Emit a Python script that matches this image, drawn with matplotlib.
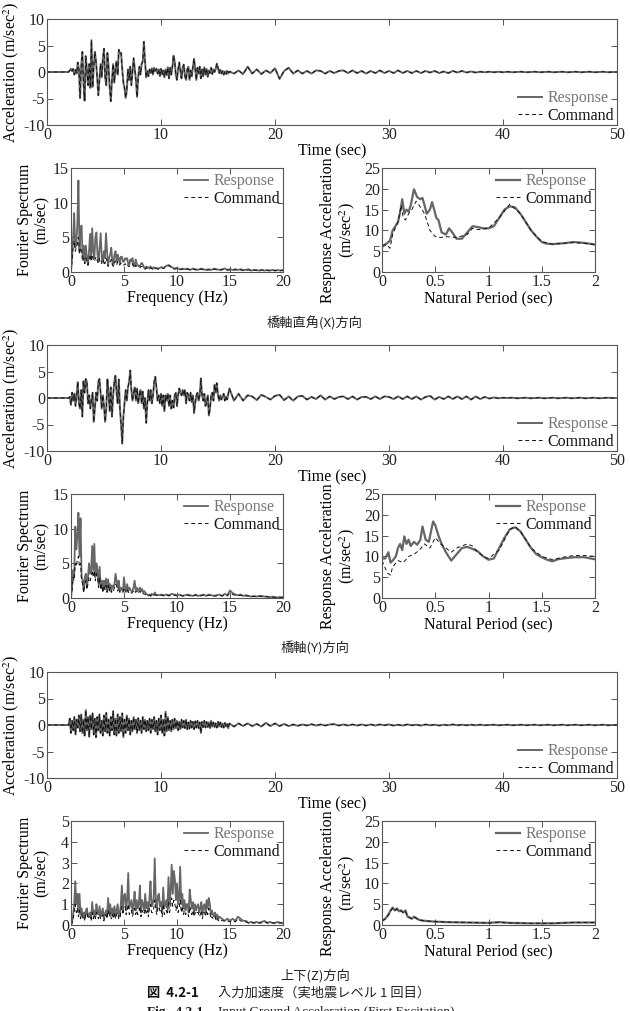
import numpy as np
import matplotlib
matplotlib.use("Agg")
import matplotlib.pyplot as plt

plt.rcParams['font.family'] = ['Liberation Serif', 'DejaVu Serif']
plt.rcParams['mathtext.fontset'] = 'stix'
plt.rcParams['font.size'] = 11.5
plt.rcParams['axes.unicode_minus'] = False

# ---------------- time histories (m/sec^2) ----------------
# dense part sampled every 0.1 s from 2.0 s to 16.0 s
acc_x_dense = [0.3, 0.6, 0.2, 0.6, -0.5, 0.4, -0.3, 1.8, 0.5, -4.9,
               1.0, 3.8, -2.0, -5.4, 3.0, 0.5, -2.5, 1.5, -3.0, 6.0,
               -2.8, 1.0, 3.8, 2.0, -1.0, -4.4, -1.5, 1.5, -1.0, 2.5,
               4.4, -1.0, -2.5, 3.6, 1.0, -3.0, -5.5, -1.5, 1.5, -2.0,
               0.5, 2.0, -0.5, 4.2, 3.5, 3.6, 0.5, -2.0, -3.0, -4.9,
               -3.5, 0.5, -1.5, 1.0, -2.5, 0.0, 2.6, 0.5, -1.5, -4.7,
               -1.0, 1.0, -0.5, 1.5, 2.0, 5.7, 2.0, -1.0, 0.2, -0.8,
               0.5, -0.2, 0.7, -0.5, 0.8, 0.2, 0.6, -0.3, 0.5, -0.8,
               0.6, -0.5, 0.3, -1.0, 0.5, -0.6, 0.9, -1.2, 0.8, -0.5,
               1.0, 3.1, 2.0, -0.5, -1.5, 0.5, 1.8, 0.2, -1.2, 0.8,
               1.4, -0.8, -1.5, 0.5, 1.0, -1.5, 0.3, -0.8, 1.0, 2.5,
               0.5, -1.5, 0.8, -0.3, 1.0, -1.2, 0.5, -0.8, 0.9, -0.5,
               0.6, -0.9, 0.3, -0.2, 0.8, -0.4, 0.5, 0.0, 0.6, 1.6,
               0.8, -0.2, 0.4, -0.3, 0.2, -0.5, 0.1, -0.4, 0.2, -0.3,
               0.1]
# tail sampled every 0.4 s from 16.4 s to 50.0 s
acc_x_tail = [-0.3, 0.3, -0.4, 1.0, -0.3, 0.5, -0.4, 0.3, -0.2, 0.7,
              -1.3, 0.2, 0.8, -0.3, 0.3, -0.3, 0.2, -0.3, 0.3, 0.2,
              -0.3, 0.2, -0.2, 0.2, 0.3, -0.2, 0.3, -0.2, 0.2, -0.3,
              0.2, -0.2, 0.3, -0.2, 0.2, -0.2, 0.3, -0.2, 0.2, -0.2,
              0.2, -0.2, 0.2, -0.1, 0.2, -0.2, 0.1, -0.2, 0.2, -0.1,
              0.2, -0.1, 0.1, -0.1, 0.05, -0.05, 0.05, -0.05, 0.05, -0.05,
              0.05, -0.05, 0.0, 0.05, -0.05, 0.0, 0.05, -0.05, 0.0, 0.05,
              -0.05, 0.0, 0.05, -0.05, 0.0, 0.05, -0.05, 0.0, 0.05, -0.05,
              0.0, 0.05, -0.05, 0.0, 0.0]

acc_y_dense = [0.2, -1.3, 1.0, -0.5, 0.8, -1.5, 0.5, 3.0, -1.0, -2.0,
               1.5, -3.5, 3.2, 1.0, 3.6, 3.0, -1.0, 0.5, -2.0, -0.5,
               1.0, -4.5, -2.0, 1.0, -0.5, 3.0, 3.6, 1.0, -2.0, 0.5,
               -1.5, -4.5, -2.0, 3.5, 1.0, -2.5, 2.0, -3.5, 0.5, 3.0,
               4.2, 1.0, -1.0, 3.5, -2.0, -5.0, -8.6, -3.5, -1.0, 1.5,
               -0.5, 2.0, 3.0, 5.2, 1.5, -0.5, 1.0, 2.0, -0.5, 1.8,
               -1.0, 0.5, 1.5, -1.0, 1.2, -2.0, 0.0, -4.7, -1.0, 1.5,
               -0.5, 1.5, -1.0, 0.5, 3.0, 4.0, 2.0, -0.5, 0.5, -1.0,
               0.8, -1.5, 0.5, -2.5, 0.5, -0.5, 0.8, -1.5, 0.5, -2.0,
               -0.5, -1.8, 0.5, 1.0, -1.5, 0.5, 1.8, 1.0, 0.5, 1.5,
               0.5, 1.5, -1.0, 1.0, 0.5, -0.5, 1.0, -0.8, 0.5, -2.8,
               -1.0, 0.5, 1.0, -0.5, 0.5, 3.7, 0.5, -0.5, 0.8, -1.5,
               -1.0, 0.5, -3.3, -2.0, 0.5, 1.0, -0.5, 2.5, 1.0, 2.8,
               0.5, -0.5, 0.5, -0.3, 0.3, 0.8, -0.5, 0.3, -0.3, 0.8,
               1.8]
acc_y_tail = [-0.5, 0.8, -0.5, 0.5, 0.3, -0.4, 0.6, 0.2, -0.3, 0.4,
              0.6, -0.4, 0.3, -0.5, 0.3, 0.4, -0.3, 0.2, -0.2, 0.5,
              -0.3, 0.3, -0.2, 0.2, 0.3, -0.2, 0.3, -0.3, 0.2, 0.2,
              -0.2, 0.3, -0.2, 0.3, 0.2, -0.2, 0.3, -0.2, 0.3, -0.2,
              0.3, -0.3, 0.2, 0.4, -0.3, 0.2, -0.2, 0.3, -0.2, 0.3,
              -0.2, 0.3, -0.3, 0.3, -0.2, 0.2, -0.1, 0.1, -0.05, 0.05,
              0.0, 0.05, -0.05, 0.0, 0.05, -0.05, 0.0, 0.05, -0.05, 0.0,
              0.05, -0.05, 0.0, 0.05, -0.05, 0.0, 0.05, -0.05, 0.0, 0.05,
              -0.05, 0.0, 0.05, 0.0, 0.0]

acc_z_dense = [1.2, -1.5, 0.8, -1.0, 1.5, -1.8, 1.0, -0.5, 1.8, -1.2,
               2.0, -1.5, 1.0, -2.0, 2.8, -1.0, 1.5, -2.2, 1.8, -0.8,
               2.2, -1.8, 1.2, -2.3, 1.5, -1.0, 2.0, -1.5, 0.8, -2.0,
               1.8, -1.2, 2.3, -1.5, 1.0, -2.0, 1.5, -1.0, 2.6, -1.8,
               1.2, -2.0, 2.0, -1.5, 1.5, -1.2, 2.2, -2.3, 1.0, -1.5,
               1.8, -1.0, 1.2, -1.8, 0.8, -1.2, 1.5, -0.8, 1.0, -1.5,
               1.3, -1.0, 0.8, -1.5, 1.5, -0.8, 1.0, -1.2, 0.8, -1.0,
               1.2, -1.5, 1.0, -0.8, 1.5, -1.2, 0.8, -1.8, 1.2, -1.0,
               1.8, -1.5, 1.0, -2.0, 2.5, -1.2, 1.5, -1.0, 0.8, -1.2,
               1.0, -0.8, 1.2, -0.6, 0.8, -1.0, 0.6, -0.8, 1.0, -0.5,
               0.8, -0.6, 1.0, -0.8, 0.5, -0.7, 0.8, -0.5, 0.6, -0.8,
               0.7, -0.5, 0.8, -0.6, 0.5, -1.5, 0.6, -0.4, 0.8, -0.5,
               0.6, -0.4, 0.5, -0.6, 0.8, -0.3, 0.5, -0.4, 0.3, -0.5,
               0.6, -0.3, 0.5, -0.4, 0.3, -0.5, 0.4, -0.3, 0.2, -0.6,
               0.3]
acc_z_tail = [-0.3, 0.3, -0.2, 0.3, -0.2, 0.2, -0.3, 0.4, -0.2, 0.3,
              -0.2, 0.2, -0.2, 0.1, -0.15, 0.1, -0.1, 0.15, -0.1, 0.1,
              -0.1, 0.1, 0.15, -0.1, 0.1, -0.1, 0.1, -0.1, 0.1, -0.1,
              0.1, -0.1, 0.1, -0.05, 0.1, -0.1, 0.05, -0.1, 0.1, -0.05,
              0.05, -0.1, 0.1, -0.05, 0.05, -0.1, 0.05, -0.05, 0.1, -0.05,
              0.05, -0.05, 0.05, -0.05, 0.05, -0.05, 0.0, 0.05, -0.05, 0.0,
              0.05, -0.05, 0.0, 0.05, -0.05, 0.0, 0.05, -0.05, 0.0, 0.05,
              -0.05, 0.0, 0.05, -0.05, 0.0, 0.05, -0.05, 0.0, 0.05, -0.05,
              0.0, 0.05, -0.05, 0.0, 0.0]

# ---------------- Fourier spectra (m/sec) ----------------
# 0.1 Hz steps from 0 Hz, then 0.25 Hz steps
fx_resp_dense = [0.0, 2.0, 5.0, 8.5, 3.5, 4.0, 7.0, 13.2, 3.0, 6.5,
                 6.7, 2.0, 3.8, 1.5, 3.8, 2.0, 1.0, 3.0, 5.5, 2.0,
                 6.3, 3.0, 2.0, 5.0, 5.7, 2.5, 1.5, 3.5, 5.6, 2.0,
                 1.5, 3.0, 2.0, 5.6, 3.0, 1.0, 2.0, 2.5, 3.5, 1.5,
                 1.0, 2.5, 3.0, 1.5, 2.5, 2.0, 1.2, 2.2, 2.2, 1.5,
                 1.5, 2.0, 1.8, 2.0, 1.2, 1.0, 1.8, 1.5, 2.0, 1.0,
                 0.8, 1.8, 1.2, 1.0, 0.8, 0.8, 1.2, 1.3, 1.0, 0.6,
                 0.5, 0.8, 0.6, 0.7, 0.5, 0.8, 0.6, 0.5, 0.7, 0.5,
                 0.6]
fx_resp_tail = [0.5, 0.7, 0.6, 0.9, 1.0, 0.7, 0.5, 0.6, 0.4, 0.5,
                0.4, 0.5, 0.3, 0.5, 0.4, 0.3, 0.5, 0.4, 0.3, 0.4,
                0.3, 0.5, 0.4, 0.3, 0.4, 0.5, 0.3, 0.4, 0.3, 0.4,
                0.3, 0.4, 0.3, 0.3, 0.4, 0.2, 0.3, 0.3, 0.2, 0.3,
                0.2, 0.3, 0.2, 0.3, 0.2, 0.3, 0.2, 0.3]
fx_cmd_dense = [0.0, 1.5, 3.5, 4.5, 3.0, 3.5, 4.0, 5.0, 2.5, 3.5,
                3.0, 1.5, 2.0, 1.2, 2.0, 1.5, 1.0, 1.8, 2.5, 1.5,
                2.5, 1.8, 1.5, 2.0, 2.2, 1.5, 1.2, 2.0, 2.0, 1.2,
                1.0, 1.8, 1.2, 2.0, 1.5, 0.8, 1.2, 1.5, 1.8, 1.0,
                0.8, 1.5, 1.5, 1.0, 1.5, 1.2, 1.0, 1.3, 1.3, 1.0,
                1.0, 1.2, 1.0, 1.2, 0.8, 0.8, 1.0, 1.0, 1.2, 0.7,
                0.6, 1.0, 0.8, 0.7, 0.6, 0.6, 0.8, 0.8, 0.7, 0.5,
                0.4, 0.6, 0.5, 0.5, 0.4, 0.6, 0.5, 0.4, 0.5, 0.4,
                0.5]
fx_cmd_tail = [0.4, 0.6, 0.5, 0.8, 0.9, 0.6, 0.4, 0.5, 0.3, 0.4,
               0.3, 0.4, 0.3, 0.4, 0.3, 0.3, 0.4, 0.3, 0.3, 0.3,
               0.3, 0.4, 0.3, 0.3, 0.3, 0.4, 0.3, 0.3, 0.3, 0.3,
               0.3, 0.3, 0.2, 0.3, 0.3, 0.2, 0.3, 0.2, 0.2, 0.3,
               0.2, 0.2, 0.2, 0.3, 0.2, 0.2, 0.2, 0.2]

fy_resp_dense = [0.0, 1.5, 4.0, 3.0, 10.3, 7.0, 9.0, 12.3, 6.0, 11.5,
                 3.0, 2.5, 1.0, 3.0, 3.5, 1.5, 3.0, 5.0, 3.5, 4.0,
                 7.5, 4.0, 7.8, 3.0, 5.0, 4.0, 2.0, 4.5, 1.5, 2.5,
                 1.0, 2.5, 1.5, 2.8, 1.0, 2.7, 1.2, 2.0, 1.0, 1.8,
                 1.5, 2.0, 3.5, 2.5, 1.5, 2.5, 1.0, 1.5, 1.2, 1.0,
                 3.0, 1.5, 1.0, 2.0, 1.0, 1.5, 1.2, 1.0, 1.0, 1.5,
                 2.5, 1.2, 1.5, 1.0, 1.2, 1.5, 1.0, 1.3, 0.8, 1.0,
                 0.8, 0.6, 0.5, 0.4, 0.5, 0.3, 0.6, 0.5, 0.4, 0.8,
                 0.5]
fy_resp_tail = [0.4, 0.5, 0.4, 0.5, 0.4, 0.6, 0.5, 0.4, 0.5, 0.3,
                0.4, 0.5, 0.4, 0.3, 0.5, 0.3, 0.4, 0.5, 0.3, 0.5,
                0.4, 0.3, 0.4, 0.5, 0.3, 0.6, 0.4, 1.1, 0.7, 0.5,
                0.4, 0.5, 0.3, 0.4, 0.3, 0.2, 0.3, 0.2, 0.3, 0.3,
                0.2, 0.2, 0.1, 0.2, 0.1, 0.1, 0.1, 0.1]
fy_cmd_dense = [0.0, 1.0, 3.0, 2.5, 5.0, 4.5, 5.5, 6.0, 4.5, 5.0,
                2.5, 2.0, 0.8, 2.0, 2.5, 1.2, 2.0, 3.0, 2.5, 3.0,
                4.0, 3.0, 4.0, 2.5, 3.5, 3.0, 1.5, 3.0, 1.2, 2.0,
                0.8, 1.8, 1.2, 1.8, 0.8, 1.8, 1.0, 1.5, 0.8, 1.2,
                1.0, 1.5, 2.0, 1.8, 1.0, 1.5, 0.8, 1.0, 0.8, 0.8,
                1.5, 1.0, 0.8, 1.2, 0.8, 1.0, 0.8, 0.7, 0.8, 1.0,
                1.2, 0.8, 1.0, 0.7, 0.8, 1.0, 0.7, 0.8, 0.6, 0.6,
                0.5, 0.4, 0.4, 0.3, 0.4, 0.3, 0.4, 0.4, 0.3, 0.5,
                0.4]
fy_cmd_tail = [0.3, 0.4, 0.3, 0.4, 0.3, 0.4, 0.4, 0.3, 0.4, 0.3,
               0.3, 0.4, 0.3, 0.3, 0.4, 0.3, 0.3, 0.4, 0.3, 0.4,
               0.3, 0.3, 0.3, 0.4, 0.3, 0.4, 0.3, 0.7, 0.5, 0.4,
               0.3, 0.4, 0.3, 0.3, 0.3, 0.2, 0.2, 0.2, 0.2, 0.2,
               0.2, 0.2, 0.1, 0.1, 0.1, 0.1, 0.1, 0.1]

fz_resp_dense = [0.0, 0.1, 0.5, 1.0, 2.1, 1.0, 1.5, 0.6, 1.5, 0.5,
                 0.8, 0.4, 0.6, 0.3, 0.7, 0.8, 0.4, 0.5, 0.6, 0.3,
                 1.1, 0.5, 0.7, 0.4, 1.0, 0.6, 0.5, 0.9, 0.4, 0.6,
                 0.8, 0.3, 0.5, 0.7, 0.4, 1.3, 0.6, 1.0, 0.5, 0.8,
                 0.5, 0.9, 0.4, 0.7, 1.0, 0.5, 0.4, 1.0, 1.9, 0.8,
                 1.4, 1.5, 0.7, 1.2, 2.5, 0.8, 1.0, 1.2, 0.6, 1.0,
                 1.6, 0.7, 1.2, 0.8, 1.0, 1.9, 0.6, 1.2, 1.0, 0.7,
                 1.5, 0.8, 1.1, 0.6, 1.3, 2.1, 0.9, 1.0, 1.3, 3.2,
                 1.2, 0.7, 1.4, 1.5, 0.9, 1.1, 0.6, 1.8, 0.8, 1.0,
                 1.2, 0.8, 2.3, 1.0, 1.6, 2.9, 1.5, 2.6, 2.2, 1.2,
                 2.0, 1.0, 1.3, 2.8, 1.0, 1.5, 0.8, 1.2, 0.7, 1.0,
                 1.0, 0.6, 1.7, 1.2, 0.8, 1.1, 0.6, 1.0, 0.7, 0.9,
                 1.0, 0.6, 0.8, 1.1, 0.5, 0.9, 1.0, 0.6, 1.2, 0.8,
                 1.3, 1.0, 0.5, 0.7, 0.5, 0.4, 0.6, 0.3, 0.5, 0.3,
                 0.4]
fz_resp_tail = [0.3, 0.2, 0.3, 0.2, 0.3, 0.2, 0.4, 0.3, 0.2, 0.2,
                0.1, 0.15, 0.1, 0.15, 0.1, 0.15, 0.2, 0.1, 0.15, 0.1,
                0.1, 0.15, 0.1, 0.1]
fz_cmd_dense = [0.0, 0.1, 0.3, 0.6, 1.0, 0.6, 0.8, 0.4, 0.7, 0.3,
                0.5, 0.3, 0.4, 0.2, 0.5, 0.6, 0.3, 0.4, 0.4, 0.2,
                0.6, 0.3, 0.5, 0.3, 0.6, 0.4, 0.3, 0.5, 0.3, 0.4,
                0.5, 0.2, 0.4, 0.5, 0.3, 0.7, 0.4, 0.6, 0.3, 0.5,
                0.3, 0.6, 0.3, 0.5, 0.6, 0.3, 0.3, 0.6, 0.9, 0.5,
                0.8, 0.9, 0.5, 0.7, 1.0, 0.5, 0.6, 0.7, 0.4, 0.6,
                0.8, 0.5, 0.7, 0.5, 0.6, 0.9, 0.4, 0.7, 0.6, 0.5,
                0.8, 0.5, 0.7, 0.4, 0.8, 1.0, 0.6, 0.6, 0.8, 1.2,
                0.7, 0.5, 0.8, 0.9, 0.6, 0.7, 0.4, 1.0, 0.5, 0.6,
                0.7, 0.5, 1.1, 0.6, 0.9, 1.3, 0.9, 1.2, 1.0, 0.7,
                1.0, 0.6, 0.8, 1.2, 0.6, 0.9, 0.5, 0.7, 0.5, 0.6,
                0.6, 0.4, 0.9, 0.7, 0.5, 0.7, 0.4, 0.6, 0.5, 0.6,
                0.6, 0.4, 0.5, 0.7, 0.3, 0.6, 0.6, 0.4, 0.7, 0.5,
                0.8, 0.6, 0.3, 0.4, 0.3, 0.3, 0.4, 0.2, 0.3, 0.2,
                0.3]
fz_cmd_tail = [0.2, 0.2, 0.2, 0.15, 0.2, 0.15, 0.3, 0.2, 0.15, 0.15,
               0.1, 0.1, 0.1, 0.1, 0.1, 0.1, 0.15, 0.1, 0.1, 0.1,
               0.1, 0.1, 0.1, 0.1]

# ---------------- response spectra (m/sec^2) ----------------
rx_period = [0, 0.025, 0.05, 0.075, 0.1, 0.125, 0.15, 0.175, 0.19, 0.21,
             0.23, 0.25, 0.27, 0.3, 0.33, 0.36, 0.38, 0.4, 0.42, 0.45,
             0.47, 0.49, 0.51, 0.53, 0.56, 0.6, 0.63, 0.66, 0.7, 0.75,
             0.8, 0.85, 0.9, 0.95, 1.0, 1.05, 1.1, 1.15, 1.2, 1.25,
             1.3, 1.35, 1.4, 1.45, 1.5, 1.55, 1.6, 1.7, 1.8, 1.9, 2.0]
rx_resp = [6.0, 6.5, 7.0, 7.5, 10.0, 11.0, 12.0, 15.0, 17.5, 14.0,
           15.0, 14.5, 16.0, 19.9, 18.0, 17.5, 17.8, 16.0, 14.0, 15.0,
           16.8, 15.0, 13.0, 12.5, 9.5, 9.0, 10.5, 9.5, 8.0, 8.0,
           9.5, 11.0, 10.8, 10.5, 10.5, 11.0, 13.0, 15.0, 15.8, 15.5,
           14.0, 12.0, 10.0, 8.5, 7.2, 6.8, 6.7, 6.9, 7.2, 7.0, 6.6]
rx_cmd_period = [0, 0.05, 0.075, 0.1, 0.15, 0.18, 0.2, 0.22, 0.25, 0.28,
                 0.32, 0.35, 0.4, 0.45, 0.5, 0.55, 0.6, 0.7, 0.8, 0.85,
                 0.9, 1.0, 1.1, 1.2, 1.3, 1.4, 1.5, 1.6, 1.8, 2.0]
rx_cmd = [6.5, 6.5, 5.7, 9.0, 12.0, 16.0, 13.0, 12.5, 14.0, 15.0,
          17.0, 16.0, 14.0, 10.0, 8.5, 8.3, 8.5, 8.3, 9.0, 10.5,
          10.2, 10.5, 13.0, 16.3, 14.0, 10.0, 7.3, 6.7, 7.1, 6.6]

ry_period = [0, 0.03, 0.06, 0.08, 0.1, 0.13, 0.15, 0.17, 0.19, 0.21,
             0.23, 0.25, 0.27, 0.3, 0.33, 0.36, 0.38, 0.41, 0.44, 0.46,
             0.48, 0.5, 0.53, 0.56, 0.6, 0.65, 0.7, 0.75, 0.8, 0.85,
             0.9, 0.95, 1.0, 1.05, 1.1, 1.15, 1.2, 1.25, 1.3, 1.35,
             1.4, 1.45, 1.5, 1.55, 1.6, 1.65, 1.7, 1.8, 1.9, 2.0]
ry_resp = [9.5, 9.5, 11.0, 8.5, 9.0, 10.0, 12.0, 13.0, 11.5, 14.8,
           13.0, 14.0, 12.5, 13.5, 12.8, 14.0, 17.2, 14.0, 13.5, 16.0,
           18.4, 17.5, 15.0, 13.0, 11.0, 9.0, 10.5, 12.0, 12.3, 11.8,
           11.2, 10.0, 9.2, 9.5, 12.0, 14.5, 16.5, 17.0, 16.0, 14.0,
           12.0, 10.5, 9.8, 9.2, 8.8, 9.3, 9.5, 9.8, 9.8, 9.3]
ry_cmd_period = [0, 0.05, 0.08, 0.1, 0.15, 0.2, 0.25, 0.3, 0.35, 0.4,
                 0.45, 0.5, 0.55, 0.6, 0.65, 0.7, 0.75, 0.8, 0.85, 0.9,
                 0.95, 1.0, 1.1, 1.2, 1.25, 1.3, 1.4, 1.5, 1.6, 1.7,
                 1.8, 1.9, 2.0]
ry_cmd = [9.0, 6.0, 5.5, 7.5, 9.0, 8.5, 10.0, 10.5, 11.5, 13.0,
          12.0, 14.5, 13.0, 12.0, 11.0, 12.0, 12.5, 13.0, 12.5, 11.0,
          10.0, 9.5, 11.5, 16.5, 17.2, 16.0, 12.0, 10.0, 9.2, 9.8,
          10.2, 10.2, 10.0]

rz_period = [0, 0.03, 0.06, 0.08, 0.1, 0.12, 0.14, 0.16, 0.18, 0.2,
             0.22, 0.24, 0.26, 0.28, 0.3, 0.32, 0.35, 0.4, 0.5, 0.6,
             0.8, 1.0, 1.1, 1.2, 1.4, 1.6, 1.8, 2.0]
rz_resp = [1.0, 1.5, 2.5, 3.5, 4.2, 3.5, 4.0, 3.3, 3.5, 3.0,
           3.5, 2.0, 1.8, 1.5, 2.0, 1.7, 1.2, 1.0, 0.8, 0.7,
           0.6, 0.5, 0.7, 0.5, 0.4, 0.4, 0.6, 0.6]
rz_cmd = [1.0, 1.4, 2.3, 3.3, 4.0, 3.4, 3.8, 3.2, 3.4, 2.9,
          3.3, 2.0, 1.7, 1.5, 1.9, 1.6, 1.2, 1.0, 0.8, 0.7,
          0.6, 0.5, 0.6, 0.5, 0.4, 0.4, 0.6, 0.6]

captions = ['橋軸直角(X)方向', '橋軸(Y)方向', '上下(Z)方向']

RESP_C = '#666666'
CMD_C = '#111111'
W, H = 630, 1011

fig = plt.figure(figsize=(W / 100, H / 100), dpi=100)


def px_axes(x0, y0, x1, y1):
    return fig.add_axes([x0 / W, 1 - y1 / H, (x1 - x0) / W, (y1 - y0) / H])


def style(ax):
    for s in ax.spines.values():
        s.set_color('#555555')
        s.set_linewidth(0.8)
    ax.tick_params(direction='in', top=True, right=True, length=4,
                   width=0.7, color='#555555', labelcolor='#222222',
                   labelsize=11.5, pad=1.5)


def legend(ax, loc, anchor):
    leg = ax.legend(loc=loc, bbox_to_anchor=anchor, frameon=False,
                    handlelength=1.5, handletextpad=0.3, borderaxespad=0,
                    borderpad=0.2, labelspacing=0.1, fontsize=11.5)
    leg.get_texts()[0].set_color('#777777')
    leg.get_texts()[1].set_color('#111111')


def time_grid(dense, tail):
    t_dense = 2.0 + 0.1 * np.arange(len(dense))
    t_tail = t_dense[-1] + 0.4 * np.arange(1, len(tail) + 1)
    t = np.concatenate([[0.0, 1.9], t_dense, t_tail])
    a = np.concatenate([[0.0, 0.0], dense, tail])
    return t, a


def freq_grid(dense, tail):
    f_dense = 0.1 * np.arange(len(dense))
    f_tail = f_dense[-1] + 0.25 * np.arange(1, len(tail) + 1)
    return np.concatenate([f_dense, f_tail]), np.concatenate([dense, tail])


groups = [
    (acc_x_dense, acc_x_tail, fx_resp_dense, fx_resp_tail, fx_cmd_dense, fx_cmd_tail,
     rx_period, rx_resp, rx_cmd_period, rx_cmd, 15, [0, 5, 10, 15]),
    (acc_y_dense, acc_y_tail, fy_resp_dense, fy_resp_tail, fy_cmd_dense, fy_cmd_tail,
     ry_period, ry_resp, ry_cmd_period, ry_cmd, 15, [0, 5, 10, 15]),
    (acc_z_dense, acc_z_tail, fz_resp_dense, fz_resp_tail, fz_cmd_dense, fz_cmd_tail,
     rz_period, rz_resp, rz_period, rz_cmd, 5, [0, 1, 2, 3, 4, 5]),
]

tops = [19, 345, 672]
for g, (top, grp) in enumerate(zip(tops, groups)):
    (ad, at, frd, frt, fcd, fct, rp, rr, rcp, rc, fmax, fticks) = grp

    # time history
    ax = px_axes(47, top, 617, top + 106)
    t, a = time_grid(ad, at)
    ax.plot(t, a, color=RESP_C, lw=1.4, label='Response')
    ax.plot(t, a, color=CMD_C, lw=0.7, ls=(0, (4, 3)), label='Command')
    ax.set_xlim(0, 50)
    ax.set_ylim(-10, 10)
    ax.set_xticks([0, 10, 20, 30, 40, 50])
    ax.set_yticks([-10, -5, 0, 5, 10])
    ax.set_xlabel('Time (sec)', labelpad=0)
    ax.set_ylabel('Acceleration (m/sec$^2$)')
    ax.yaxis.set_label_coords(-0.046, 0.5)
    style(ax)
    legend(ax, 'lower right', (1.0, -0.02))

    ftop = top + 149
    # Fourier spectrum
    ax = px_axes(71, ftop, 283, ftop + 104)
    f, r = freq_grid(frd, frt)
    fc, c = freq_grid(fcd, fct)
    ax.plot(f, r, color=RESP_C, lw=1.3, label='Response')
    ax.plot(fc, c, color=CMD_C, lw=0.7, ls=(0, (4, 3)), label='Command')
    ax.set_xlim(0, 20)
    ax.set_ylim(0, fmax)
    ax.set_xticks([0, 5, 10, 15, 20])
    ax.set_yticks(fticks)
    ax.set_xlabel('Frequency (Hz)', labelpad=0)
    ax.set_ylabel('Fourier Spectrum\n(m/sec)', linespacing=1.1)
    ax.yaxis.set_label_coords(-0.1, 0.5)
    style(ax)
    legend(ax, 'upper right', (1.0, 0.98))

    # response spectrum
    ax = px_axes(382, ftop, 595, ftop + 104)
    ax.plot(rp, rr, color=RESP_C, lw=1.6, label='Response')
    ax.plot(rcp, rc, color=CMD_C, lw=0.7, ls=(0, (4, 3)), label='Command')
    ax.set_xlim(0, 2)
    ax.set_ylim(0, 25)
    ax.set_xticks([0, 0.5, 1, 1.5, 2])
    ax.set_xticklabels(['0', '0.5', '1', '1.5', '2'])
    ax.set_yticks([0, 5, 10, 15, 20, 25])
    ax.set_xlabel('Natural Period (sec)', labelpad=0)
    ax.set_ylabel('Response Acceleration\n(m/sec$^2$)', linespacing=1.1)
    ax.yaxis.set_label_coords(-0.117, 0.4)
    style(ax)
    legend(ax, 'upper right', (1.0, 0.98))

    fig.text(315 / W, 1 - (ftop + 155) / H, captions[g], ha='center', va='center',
             fontsize=9.5, family=['Noto Sans CJK JP', 'Liberation Serif'], color='#222222')

jp = ['Noto Sans CJK JP', 'Liberation Serif']
fig.text(147 / W, 1 - 993 / H, '図  4.2-1', ha='left', va='center', fontsize=9.5,
         weight='bold', family=jp, color='#111111')
fig.text(218 / W, 1 - 993 / H, '入力加速度（実地震レベル 1 回目）', ha='left', va='center',
         fontsize=9.5, family=jp, color='#222222')
fig.text(147 / W, 1 - 1012 / H, 'Fig.  4.2-1', ha='left', va='center', fontsize=9.5,
         weight='bold', color='#111111')
fig.text(218 / W, 1 - 1012 / H, 'Input Ground Acceleration (First Excitation)', ha='left',
         va='center', fontsize=9.5, color='#222222')

fig.savefig('out.png', dpi=100)
